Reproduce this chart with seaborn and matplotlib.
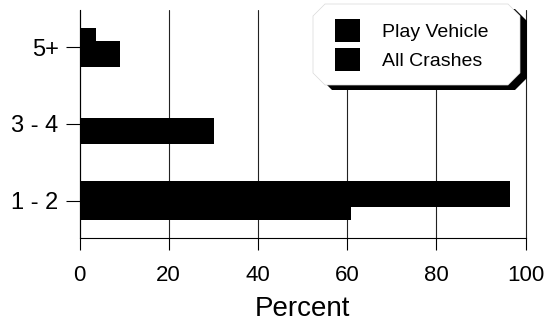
import numpy as np
import pandas as pd
import matplotlib
matplotlib.use("Agg")
import matplotlib.pyplot as plt
from matplotlib.patches import Polygon
import seaborn as sns

# data
categories = ["5+", "3 - 4", "1 - 2"]
play_vehicle = [3.6, 0.0, 96.4]
all_crashes = [9.0, 30.2, 60.8]
series_names = ["Play Vehicle", "All Crashes"]
x_ticks = [0, 20, 40, 60, 80, 100]

sns.set_style("ticks")
plt.rcParams["font.family"] = ["Liberation Sans", "DejaVu Sans"]
plt.rcParams["text.color"] = "black"
plt.rcParams["xtick.labelcolor"] = "black"
plt.rcParams["ytick.labelcolor"] = "black"
plt.rcParams["axes.labelcolor"] = "black"

df = pd.DataFrame({
    "category": categories * 2,
    "percent": play_vehicle + all_crashes,
    "series": [series_names[0]] * 3 + [series_names[1]] * 3,
})

W, H = 549, 327
fig = plt.figure(figsize=(W / 100, H / 100), dpi=100)
ax = fig.add_axes([79.5 / W, 1 - 238 / H, (525.7 - 79.5) / W, (238 - 10) / H])

# overlapping bars: dodge + negative gap widens each bar past its slot
sns.barplot(data=df, x="percent", y="category", hue="series", orient="h",
            order=categories, hue_order=series_names,
            palette=["black", "black"], width=0.349, gap=-0.94,
            dodge=True, errorbar=None, ax=ax, linewidth=0, saturation=1)

ax.set_xlim(0, 100)
ax.set_ylim(2.486, -0.486)
ax.set_xticks(x_ticks)
ax.set_xlabel("Percent", fontsize=20, labelpad=7)
ax.set_ylabel("")
ax.xaxis.grid(True, color="#222222", linewidth=0.8)
for gl in ax.get_xgridlines():
    gl.set_clip_on(False)
ax.set_axisbelow(True)
for s in ["top", "right"]:
    ax.spines[s].set_visible(False)
for s in ["left", "bottom"]:
    ax.spines[s].set_color("black")
    ax.spines[s].set_linewidth(0.8)
ax.tick_params(axis="x", length=8.6, width=0.8, color="black", pad=11, labelsize=16)
ax.tick_params(axis="y", length=10, width=0.8, color="black", pad=5, labelsize=17)

# legend frame: chamfered box with heavy shadow
def px(pts):
    return [(x / W, 1 - y / H) for x, y in pts]

x1, x2, y1, y2, c = 313, 520, 4, 85, 12
octagon = [(x1 + c, y1), (x2 - c, y1), (x2, y1 + c), (x2, y2 - c),
           (x2 - c, y2), (x1 + c, y2), (x1, y2 - c), (x1, y1 + c)]
shadow = [(x + 7, y + 5) for x, y in octagon]
ax.add_patch(Polygon(px(shadow), closed=True, transform=fig.transFigure,
                     facecolor="black", edgecolor="none", zorder=4, clip_on=False))
ax.add_patch(Polygon(px(octagon), closed=True, transform=fig.transFigure,
                     facecolor="white", edgecolor="#d8d8d8", linewidth=0.5,
                     zorder=4.5, clip_on=False))

handles, labels = ax.get_legend_handles_labels()
ax.get_legend().remove()
leg = ax.legend(handles, labels, frameon=False, loc="upper left",
                bbox_to_anchor=(335 / W, 1 - 19 / H), bbox_transform=fig.transFigure,
                fontsize=14, handlelength=1.3, handleheight=1.45,
                labelspacing=0.3, handletextpad=1.1, borderpad=0, borderaxespad=0)
leg.set_zorder(6)

fig.savefig("out.png", dpi=100)
